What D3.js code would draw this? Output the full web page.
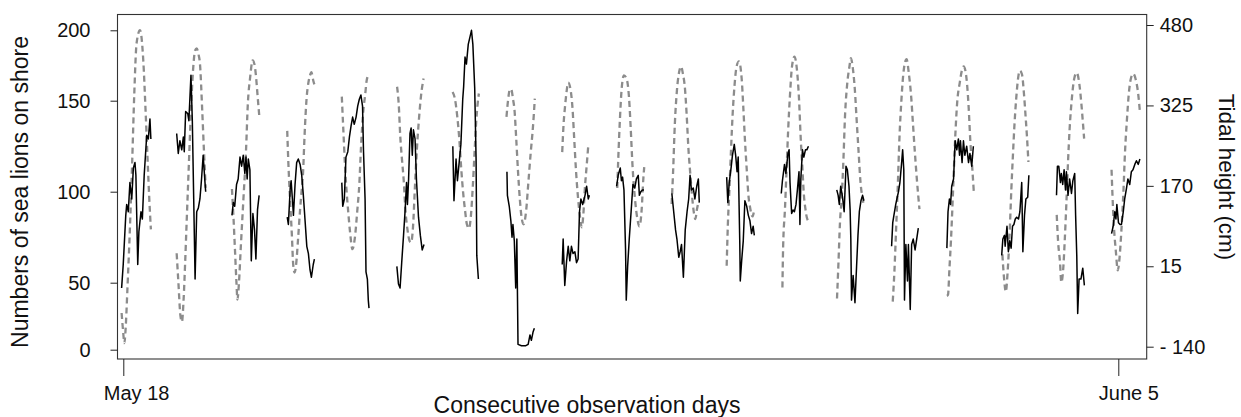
<!DOCTYPE html>
<html>
<head>
<meta charset="utf-8">
<script src="https://cdn.jsdelivr.net/npm/d3@7"></script>
<style>
  body { margin: 0; background: #fff; }
</style>
</head>
<body>
<svg id="chart"></svg>
<script>
const FONT = '"Liberation Sans", Arial, Helvetica, sans-serif';

// ticks
const dayTicks = [0, 18];
const dayTickLabels = ['May 18', 'June 5'];
const countTicks = [0, 50, 100, 150, 200];
const tideTicks = [-140, 15, 170, 325, 480];
const tideTickLabels = ['- 140', '15', '170', '325', '480'];

// window opens a bit before the day tick (hours)
const windowStartHours = -0.83;

// sea lions on shore, one list per day: [hours into window, count]
const seaLionCounts = [
  [[0.1,46],[0.8,60],[1.9,87],[2.3,93],[3.0,89],[3.7,105],[4.5,96],[5.2,113],[5.9,116],[6.3,109],[7.1,60],[7.6,78],[8.5,89],[9.1,85],[9.9,109],[11.0,131],[11.7,129],[12.4,140],[12.8,129]],
  [[0,132],[0.7,121],[1.4,128],[2.2,123],[2.9,130],[3.3,122],[3.9,144],[4.8,143],[5.3,139],[6.2,168],[6.8,139],[7.4,96],[8.0,52],[8.7,89],[9.4,91],[10.1,96],[10.8,107],[11.5,120],[12.3,105],[12.6,100]],
  [[0,87],[0.6,94],[1.2,92],[2.0,104],[2.7,107],[3.5,119],[4.2,114],[4.9,120],[5.6,110],[6.1,119],[6.6,107],[7.1,118],[7.8,112],[8.4,62],[9.1,88],[9.8,79],[10.4,63],[11.1,90],[11.8,98]],
  [[0,86],[0.5,82],[1.3,102],[1.7,106],[2.4,93],[2.7,87],[3.4,104],[4.1,116],[4.8,118],[5.6,115],[6.3,109],[7.0,98],[7.7,85],[8.5,70],[9.2,66],[9.9,57],[10.5,53],[11.3,60],[11.8,63]],
  [[-0.3,105],[0.1,92],[0.8,96],[1.5,119],[2.3,122],[3.0,130],[3.7,136],[4.4,141],[5.1,137],[5.9,141],[6.6,147],[7.3,151],[8.0,154],[8.7,147],[9.1,123],[9.8,96],[10.2,56],[10.8,52],[11.2,37],[11.5,31]],
  [[-0.4,59],[0.3,49],[1.0,46],[1.7,61],[2.5,76],[3.2,90],[3.8,105],[4.2,93],[4.7,107],[5.3,132],[5.8,135],[6.3,120],[6.8,134],[7.5,129],[8.1,107],[9.0,86],[9.8,76],[10.6,68],[11.4,71]],
  [[-0.1,125],[0.4,95],[1.3,118],[1.9,106],[2.8,118],[3.4,126],[4.2,151],[4.6,160],[5.2,181],[5.8,176],[6.6,190],[7.3,195],[8.0,200],[8.6,190],[9.4,159],[10.0,118],[10.3,65],[11.0,52]],
  [[-0.6,111],[-0.4,98],[0.4,92],[1.1,84],[1.6,75],[2.0,82],[2.6,73],[3.2,46],[3.7,74],[4.2,4],[5.7,3],[7.6,3],[8.6,4],[9.4,11],[10.0,7],[10.7,13],[11.3,16]],
  [[-0.6,60],[-0.2,74],[0.5,48],[1.3,62],[2.0,70],[2.7,62],[3.4,70],[4.1,66],[4.9,67],[5.6,61],[6.3,63],[6.9,89],[7.5,96],[8.3,93],[9.3,98],[10.0,103],[10.7,96],[11.2,98]],
  [[-1.0,103],[-0.3,109],[0.6,113],[1.1,106],[1.6,108],[2.2,101],[2.9,68],[3.2,37],[3.8,59],[4.5,74],[5.3,89],[6.1,104],[6.9,102],[7.6,107],[8.4,109],[8.9,98],[9.5,100],[10.2,101],[10.9,101]],
  [[-1.0,99],[-0.2,89],[0.6,79],[1.2,74],[2.0,64],[2.6,67],[3.2,71],[4.0,53],[4.8,79],[5.6,89],[6.3,96],[6.9,109],[7.5,101],[8.3,102],[9.0,96],[9.8,103],[10.5,107],[10.9,94]],
  [[-1.2,108],[-0.7,94],[-0.1,105],[0.7,113],[1.3,120],[2.1,126],[2.7,120],[3.3,111],[3.8,119],[4.5,71],[4.7,51],[5.3,62],[6.0,73],[6.7,95],[7.5,92],[8.2,87],[8.9,84],[9.6,77],[10.3,81],[10.8,76]],
  [[-1.5,99],[-1.0,106],[-0.1,115],[0.5,110],[1.4,121],[1.9,123],[2.3,105],[3.0,88],[3.6,90],[4.2,89],[4.9,93],[5.5,101],[6.2,111],[6.6,82],[7.0,107],[7.7,123],[8.3,119],[9.0,123],[9.6,123],[10.3,125]],
  [[-1.4,101],[-0.8,98],[-0.3,93],[0.3,103],[1.1,97],[1.8,89],[2.6,114],[3.2,112],[3.9,103],[4.4,90],[4.7,74],[5.0,37],[5.7,54],[6.5,35],[7.2,59],[7.8,76],[8.4,89],[9.1,95],[9.8,98],[10.4,95]],
  [[-1.6,70],[-1.1,83],[-0.6,87],[0.2,93],[0.7,96],[1.4,100],[2.0,105],[2.7,115],[3.2,123],[3.7,112],[4.0,37],[4.6,71],[5.3,51],[5.7,71],[6.5,30],[7.1,71],[7.8,74],[8.6,68],[9.3,74],[10.0,80]],
  [[-1.6,69],[-1.1,89],[-0.5,96],[0,93],[0.5,103],[1.3,107],[1.7,119],[2.0,128],[2.7,123],[3.4,129],[3.9,120],[4.3,128],[5.0,116],[5.6,128],[6.2,120],[7.0,125],[7.8,116],[8.4,121],[9.2,114],[9.9,125]],
  [[-1.8,65],[-1.3,74],[-0.6,76],[-0.3,70],[0.5,81],[1.1,67],[1.7,73],[2.3,69],[2.9,81],[3.5,82],[4.1,85],[4.7,86],[5.5,85],[6.1,89],[6.9,105],[7.4,67],[8.1,87],[8.7,96],[9.5,97],[10.0,109]],
  [[-2.0,98],[-1.6,114],[-1.0,114],[-0.3,105],[0.1,110],[0.7,104],[1.3,112],[1.9,101],[2.3,111],[3.0,98],[3.7,107],[4.5,99],[5.1,106],[5.9,110],[6.3,87],[6.8,65],[7.2,27],[7.8,52],[8.6,52],[9.4,58],[10.1,48]],
  [[-2.1,77],[-1.4,81],[-0.7,89],[-0.2,85],[0.2,93],[0.9,83],[1.6,82],[2.2,82],[3.0,89],[3.6,96],[4.4,102],[5.0,107],[5.8,104],[6.5,111],[7.2,112],[8.0,115],[8.7,117],[9.5,115],[10.2,118]]
];

// tidal height (cm), same windows: [hours into window, height]
const tidalHeights = [
  [[0.1,-75],[0.7,-108],[1.3,-133],[1.8,-108],[2.7,-20],[3.7,88],[4.7,218],[5.6,348],[6.6,445],[8.1,470],[9.5,412],[10.5,315],[11.4,218],[12.1,146],[12.8,86]],
  [[0,40],[0.8,-20],[1.6,-79],[2.3,-92],[3.0,-50],[3.7,24],[4.3,96],[5.3,212],[6.2,315],[7.1,392],[8.0,431],[8.7,435],[9.5,423],[10.1,406],[11.1,315],[11.9,232],[12.6,166]],
  [[0,164],[0.7,106],[1.3,48],[1.9,-11],[2.4,-49],[3.0,-20],[3.9,57],[5.0,146],[6.1,237],[6.9,328],[7.9,379],[9.0,412],[9.8,404],[10.4,383],[11.2,340],[11.9,303]],
  [[0,276],[0.5,214],[1.2,146],[2.0,77],[2.6,18],[3.2,3],[3.9,20],[4.7,67],[5.6,125],[6.2,158],[6.9,198],[7.5,264],[8.4,338],[9.2,369],[9.9,383],[10.5,389],[11.3,373],[11.8,365]],
  [[-0.3,342],[0.4,274],[1.1,208],[1.8,158],[2.5,119],[3.3,80],[4.3,48],[5.4,71],[6.4,121],[7.3,173],[8.0,241],[9.0,313],[9.8,344],[10.5,373],[11.5,386]],
  [[-0.3,361],[0.4,328],[1.1,264],[1.8,222],[2.6,179],[3.3,125],[4.2,86],[5.2,63],[5.8,61],[6.6,90],[7.5,173],[8.3,241],[9.2,299],[10.1,344],[11.2,377]],
  [[-0.2,351],[0.8,338],[1.8,305],[2.7,261],[3.6,200],[4.4,156],[5.2,123],[6.0,96],[6.9,88],[7.8,115],[8.6,171],[9.3,231],[10.1,297],[11.2,348]],
  [[-0.8,303],[-0.1,336],[0.7,356],[1.3,356],[2.0,338],[2.7,315],[3.4,263],[4.2,198],[5.0,144],[5.7,111],[6.6,96],[7.8,125],[8.6,171],[9.7,233],[10.7,284],[11.5,338]],
  [[-0.6,235],[0,290],[0.6,322],[1.3,352],[2.0,369],[3.0,356],[3.9,317],[4.6,261],[5.4,198],[6.2,150],[7.1,111],[7.9,90],[8.5,111],[9.3,170],[10.0,208],[10.7,247]],
  [[-0.7,166],[-0.3,218],[0.5,303],[1.2,357],[2.2,383],[3.3,377],[4.4,340],[5.1,284],[5.9,210],[7.0,144],[8.0,107],[8.9,92],[9.9,125],[10.6,183],[11.0,206]],
  [[-1.1,135],[-0.5,193],[0.3,290],[1.2,354],[2.1,388],[3.0,400],[3.8,386],[4.7,357],[5.4,309],[6.2,241],[7.0,193],[7.7,154],[8.6,117],[9.2,106],[9.9,125],[10.6,140]],
  [[-1.2,16],[-0.7,94],[0,164],[0.7,241],[1.4,309],[2.2,363],[3.1,400],[4.1,410],[5.3,377],[6.0,323],[6.7,261],[7.5,202],[8.2,154],[9.1,125],[10.0,111],[10.8,125]],
  [[-1.0,-26],[-0.7,51],[0.1,125],[0.8,202],[1.5,278],[2.3,346],[3.1,398],[4.2,419],[5.3,394],[6.2,338],[6.9,266],[7.7,202],[8.3,154],[9.0,125],[9.6,109],[10.2,102]],
  [[-1.3,-47],[-0.7,18],[0,100],[0.7,144],[1.5,222],[2.2,307],[3.1,365],[4.1,400],[4.7,416],[5.6,396],[6.5,352],[7.2,299],[8.0,241],[8.9,177],[9.7,148],[10.4,132]],
  [[-1.1,-53],[-0.4,3],[0.3,80],[1.1,171],[1.8,261],[2.7,338],[3.7,394],[4.9,414],[5.9,386],[6.9,342],[7.7,288],[8.5,235],[9.4,181],[10.5,125]],
  [[-1.6,-42],[-1.1,-40],[-0.5,9],[0.2,67],[1.2,173],[2.0,261],[2.9,332],[4.0,369],[4.9,392],[5.7,400],[6.7,385],[7.8,326],[8.6,255],[9.4,206],[10.1,158]],
  [[-1.5,38],[-0.8,-7],[0,-34],[0.7,-1],[1.6,73],[2.4,164],[3.1,231],[3.7,284],[4.5,338],[5.5,383],[6.1,392],[7.0,385],[7.9,346],[8.5,309],[9.2,263],[9.8,216]],
  [[-1.9,114],[-1.3,62],[-0.5,24],[0.1,-16],[0.9,9],[1.6,67],[2.3,138],[3.0,216],[3.7,280],[4.7,340],[5.8,379],[6.8,388],[7.9,367],[8.8,328],[9.6,284],[10.0,261]],
  [[-2.1,201],[-1.7,152],[-1.1,94],[-0.2,42],[0.6,7],[1.3,28],[2.2,86],[3.1,164],[3.7,231],[4.6,299],[5.4,348],[6.3,377],[7.3,386],[8.4,375],[9.5,346],[10.2,313]]
];

class TideCountVis {

    constructor(_config) {
        this.config = {
            parentElement: _config.parentElement,
            containerWidth: _config.containerWidth || 1241,
            containerHeight: _config.containerHeight || 417,
        }
        this.config.margin = _config.margin || { top: 14.5, right: 94.3, bottom: 58, left: 117.5 };

        this.width = this.config.containerWidth - this.config.margin.left - this.config.margin.right;
        this.height = this.config.containerHeight - this.config.margin.top - this.config.margin.bottom;

        this.svg = d3.select(this.config.parentElement)
            .attr('width', this.config.containerWidth)
            .attr('height', this.config.containerHeight)
            .style('font-family', FONT);

        this.chart = this.svg.append('g')
            .attr('transform', `translate(${this.config.margin.left},${this.config.margin.top})`);

        this.initVis();
    }

    initVis() {
        let vis = this;

        // days on x, tick for May 18 sits a little inside the box
        vis.xScale = d3.scaleLinear()
            .domain([0, 18])
            .range([5.8, 1000.8]);

        // left axis ticks are not evenly spaced in the original, so polylinear
        vis.countScale = d3.scaleLinear()
            .domain(countTicks)
            .range([335.2, 268.2, 177.2, 86.2, 15.8]);

        vis.tideScale = d3.scaleLinear()
            .domain([-140, 480])
            .range([332.2, 10.5]);

        vis.render();
    }

    toSeries(days) {
        return days.map((pts, d) => pts.map(p => ({ day: d + (p[0] + windowStartHours) / 24, value: p[1] })));
    }

    render() {
        let vis = this;

        let tideLine = d3.line()
            .x(d => vis.xScale(d.day))
            .y(d => vis.tideScale(d.value))
            .curve(d3.curveMonotoneX);

        let countLine = d3.line()
            .x(d => vis.xScale(d.day))
            .y(d => vis.countScale(d.value));

        vis.chart.append('g').selectAll('path')
            .data(vis.toSeries(tidalHeights))
            .join('path')
            .attr('fill', 'none')
            .attr('stroke', '#8c8c8c')
            .attr('stroke-width', 2.3)
            .attr('stroke-dasharray', '6,4')
            .attr('d', tideLine);

        vis.chart.append('g').selectAll('path')
            .data(vis.toSeries(seaLionCounts))
            .join('path')
            .attr('fill', 'none')
            .attr('stroke', '#000')
            .attr('stroke-width', 1.5)
            .attr('stroke-linejoin', 'round')
            .attr('d', countLine);

        // box
        vis.chart.append('rect')
            .attr('width', vis.width)
            .attr('height', vis.height)
            .attr('fill', 'none')
            .attr('stroke', '#333')
            .attr('stroke-width', 1.1);

        let styleAxis = g => {
            g.select('.domain').remove();
            g.attr('font-size', 20).attr('font-family', FONT).attr('color', '#222');
            g.selectAll('.tick text').attr('fill', '#111');
        };

        vis.chart.append('g')
            .call(d3.axisLeft(vis.countScale).tickValues(countTicks).tickSize(7).tickPadding(20))
            .call(styleAxis);

        vis.chart.append('g')
            .attr('transform', `translate(${vis.width},0)`)
            .call(d3.axisRight(vis.tideScale).tickValues(tideTicks).tickSize(7).tickPadding(6)
                .tickFormat((d, i) => tideTickLabels[i]))
            .call(styleAxis);

        vis.chart.append('g')
            .attr('transform', `translate(0,${vis.height})`)
            .call(d3.axisBottom(vis.xScale).tickValues(dayTicks).tickSize(17)
                .tickFormat((d, i) => dayTickLabels[i]))
            .call(styleAxis)
            .call(g => g.selectAll('.tick text')
                .attr('text-anchor', 'start')
                .attr('x', -20)
                .attr('y', 41)
                .attr('dy', null));

        // titles
        vis.svg.append('text')
            .attr('transform', 'translate(28,192) rotate(-90)')
            .attr('text-anchor', 'middle')
            .attr('font-size', 23)
            .attr('fill', '#111')
            .text('Numbers of sea lions on shore');

        vis.svg.append('text')
            .attr('transform', 'translate(1219,177) rotate(90)')
            .attr('text-anchor', 'middle')
            .attr('font-size', 22.5)
            .attr('fill', '#111')
            .text('Tidal height (cm)');

        vis.svg.append('text')
            .attr('x', 587)
            .attr('y', 413)
            .attr('text-anchor', 'middle')
            .attr('font-size', 23)
            .attr('fill', '#111')
            .text('Consecutive observation days');
    }
}

new TideCountVis({ parentElement: '#chart' });
</script>
</body>
</html>
